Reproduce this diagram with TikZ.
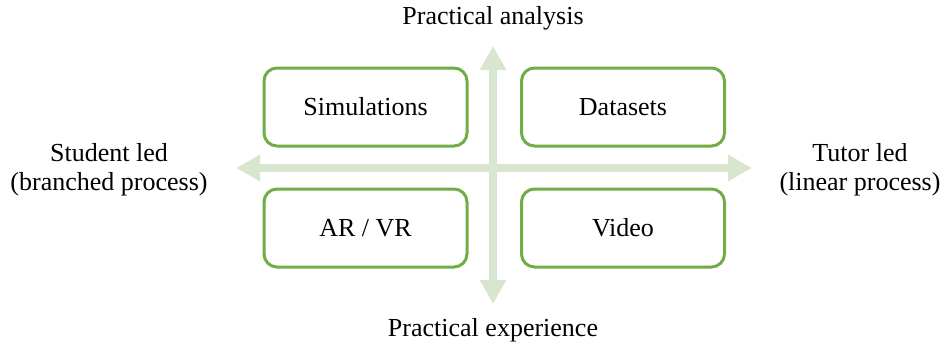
\documentclass[tikz,border=0pt]{standalone}
\usepackage{fontspec}
\setmainfont{Liberation Serif}
\usetikzlibrary{arrows.meta}
\definecolor{boxgreen}{HTML}{70AD47}
\definecolor{axisgreen}{HTML}{D8E5CF}
\begin{document}
\begin{tikzpicture}[x=1pt,y=-1pt,
  quad/.style={draw=boxgreen,line width=3pt,rounded corners=13pt,minimum width=203pt,minimum height=78pt,inner sep=0pt,font=\fontsize{26}{30}\selectfont,fill=white},
  lbl/.style={font=\fontsize{26}{30}\selectfont,align=center,inner sep=0pt},
  axis/.style={draw=axisgreen,line width=8pt,{Triangle[length=24pt,width=25pt]}-{Triangle[length=24pt,width=25pt]}}]
\useasboundingbox (0,0) rectangle (946,351);
\coordinate (L) at (236,168);
\coordinate (R) at (752,168);
\coordinate (T) at (493,46);
\coordinate (B) at (493,304);
\draw[axis] (L) -- (R);
\draw[axis] (T) -- (B);
\node[quad] (sim) at (365.5,107) {Simulations};
\node[quad] (data) at (623,107) {Datasets};
\node[quad] (arvr) at (365.5,228) {AR / VR};
\node[quad] (video) at (623,228) {Video};
\node[lbl] (top) at (493,18) {Practical analysis};
\node[lbl] (bottom) at (493,330) {Practical experience};
\node[lbl,font=\fontsize{26}{29}\selectfont] (left) at (109,170) {Student led\\(branched process)};
\node[lbl,font=\fontsize{26}{29}\selectfont] (right) at (860,170) {Tutor led\\(linear process)};
\end{tikzpicture}
\end{document}
